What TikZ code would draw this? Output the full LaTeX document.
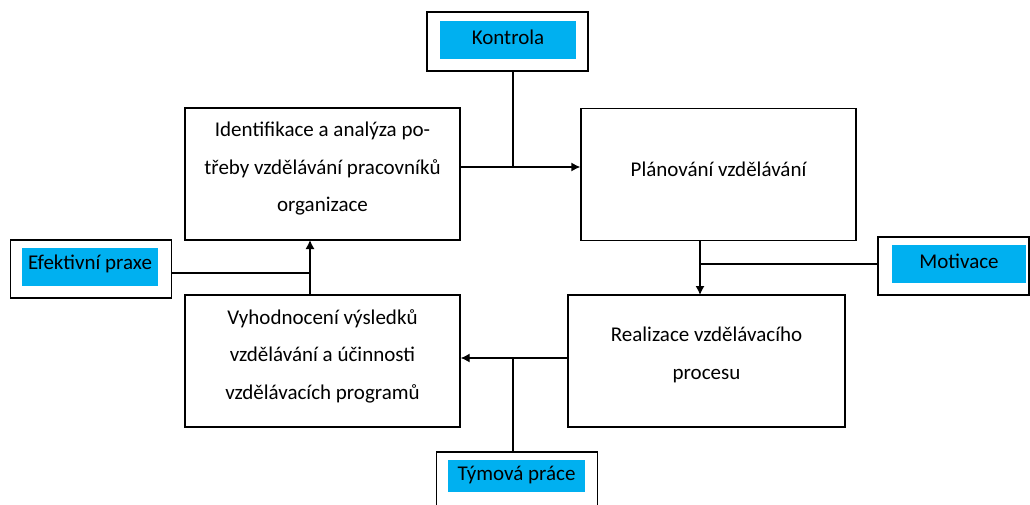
\documentclass[tikz,border=0pt]{standalone}
\usepackage{fontspec}
\setmainfont{Carlito}
\usetikzlibrary{arrows.meta,calc}
\definecolor{office}{HTML}{00B0F0}
\begin{document}
\begin{tikzpicture}[x=1pt,y=-1pt,
  mainbox/.style={draw=black,line width=1.3pt,minimum width=275pt,minimum height=132pt,inner sep=0pt},
  boxtext/.style={align=center,font=\fontsize{21}{37.5}\selectfont,inner sep=0pt},
  outerbox/.style={draw=black,line width=1.3pt,minimum width=161pt,minimum height=58pt,inner sep=0pt},
  cyanbox/.style={fill=office,minimum width=136pt,minimum height=38pt,inner sep=0pt},
  labeltext/.style={font=\fontsize{21}{24}\selectfont,inner sep=0pt},
  conn/.style={line width=1.3pt},
  arr/.style={line width=1.3pt,-{Latex[length=9pt,width=9pt]}}]
\clip (0,0) rectangle (1030,505);
% main boxes
\node[mainbox] (b1) at (322.5,174) {};
\node[mainbox] (b2) at (718.5,174.5) {};
\node[mainbox,minimum width=277pt] (b3) at (706.5,361) {};
\node[mainbox] (b4) at (322.5,361) {};
\node[boxtext] (t1) at ([yshift=5pt]b1.center) {Identifikace a analýza po-\\třeby vzdělávání pracovníků\\organizace};
\node[boxtext] (t2) at ([yshift=5pt]b2.center) {Plánování vzdělávání};
\node[boxtext] (t3) at ([yshift=6pt]b3.center) {Realizace vzdělávacího\\procesu};
\node[boxtext] (t4) at ([yshift=5pt]b4.center) {Vyhodnocení výsledků\\vzdělávání a účinnosti\\vzdělávacích programů};
% side labels
\node[outerbox,minimum height=59pt] (ko) at (507.5,41.5) {};
\node[cyanbox] (kc) at (508,40) {};
\node[labeltext] (kt) at ([yshift=3pt]kc.center) {Kontrola};
\node[outerbox] (eo) at (91,269) {};
\node[cyanbox] (ec) at (90,267) {};
\node[labeltext] (et) at ([yshift=3pt]ec.center) {Efektivní praxe};
\node[outerbox,minimum width=151pt] (mo) at (953.5,266) {};
\node[cyanbox,minimum width=134pt] (mc) at (959,264) {};
\node[labeltext] (mt) at ([yshift=3pt]mc.center) {Motivace};
\node[outerbox,minimum height=70pt] (to) at (517,487) {};
\node[cyanbox,minimum width=137pt,minimum height=32pt] (tc) at (516.5,476) {};
\node[labeltext] (tt) at ([yshift=1pt]tc.center) {Týmová práce};
% connector anchor points
\coordinate (k1) at (b1.east |- 0,167);
\coordinate (k2) at (b2.west |- 0,167);
\coordinate (kj) at (513,167);
\coordinate (m2) at (700,240);
\coordinate (m3) at (700,295);
\coordinate (mj) at (700,264);
\coordinate (r3) at (b3.west |- 0,358);
\coordinate (r4) at (b4.east |- 0,358);
\coordinate (tj) at (513,358);
\coordinate (e4) at (310,295);
\coordinate (e1) at (310,240);
\coordinate (ej) at (310,273);
% connectors
\draw[arr] (k1) -- (k2);
\draw[conn] (ko.south -| kj) -- (kj);
\draw[arr] (m2) -- (m3);
\draw[conn] (mo.west |- mj) -- (mj);
\draw[arr] (r3) -- (r4);
\draw[conn] (to.north -| tj) -- (tj);
\draw[arr] (e4) -- (e1);
\draw[conn] (eo.east |- ej) -- (ej);
\end{tikzpicture}
\end{document}
